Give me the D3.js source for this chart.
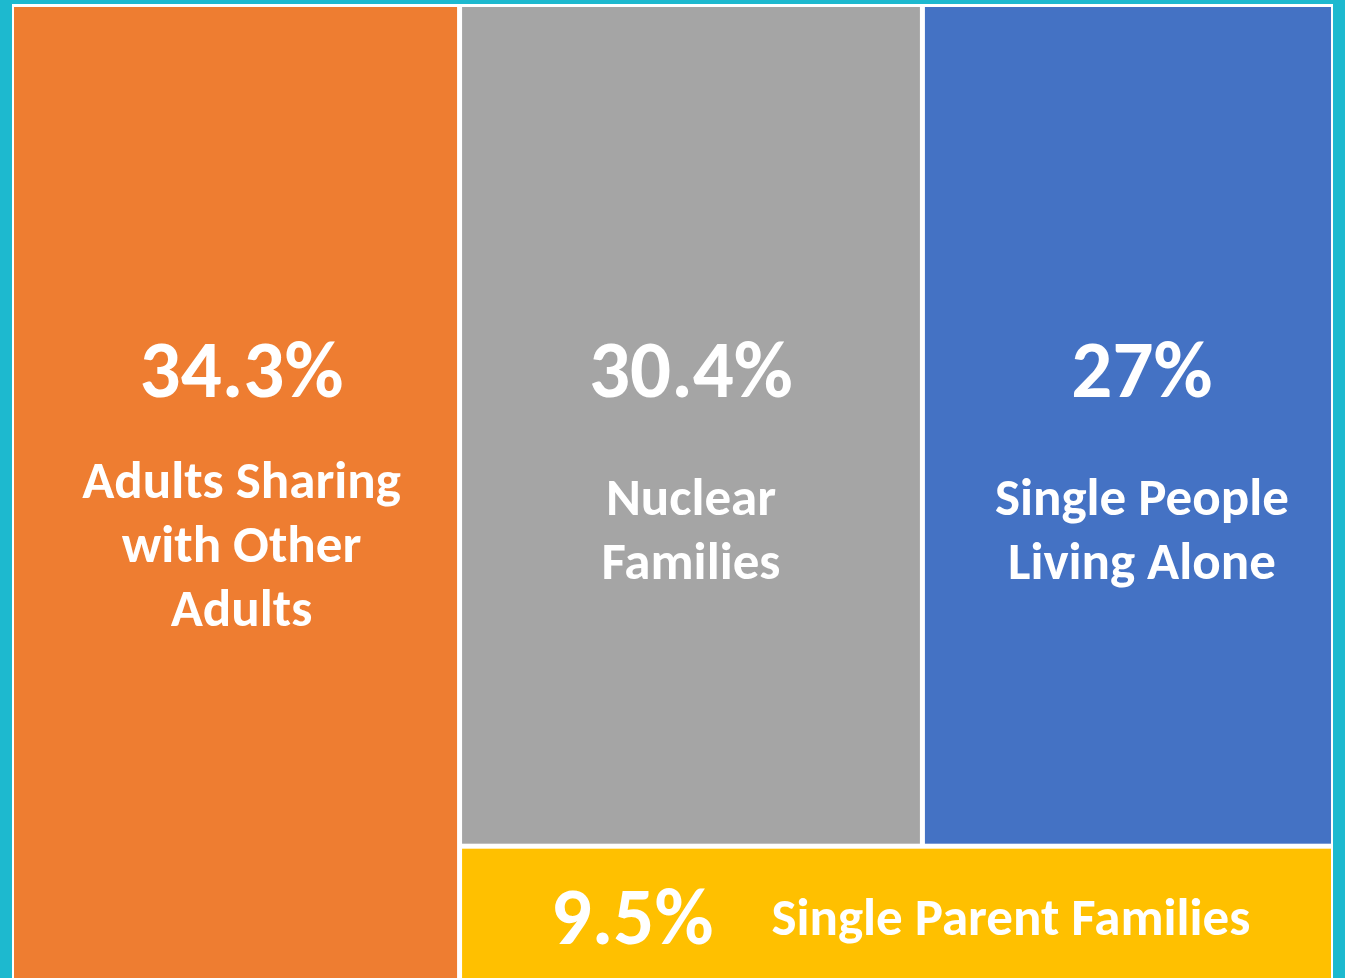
<!DOCTYPE html>
<html>
<head>
<meta charset="utf-8">
<script src="https://cdn.jsdelivr.net/npm/d3@7"></script>
<style>
  body { margin: 0; background: #1db9cf; }
  svg { display: block; }
  text { font-family: Calibri, Carlito, Lato, sans-serif; font-weight: 700; fill: #fff; }
</style>
</head>
<body>
<div id="chart"></div>
<script>
// household types, share of households (%)
const categories = ["Adults Sharing with Other Adults", "Nuclear Families", "Single People Living Alone", "Single Parent Families"];
const shares = [34.3, 30.4, 27, 9.5];
const valueLabels = ["34.3%", "30.4%", "27%", "9.5%"];
const labelLines = [
    ["Adults Sharing", "with Other", "Adults"],
    ["Nuclear", "Families"],
    ["Single People", "Living Alone"],
    ["Single Parent Families"]
];
const palette = ["#ee7d31", "#a5a5a5", "#4472c4", "#ffc000"];

var width = 1345;
var height = 978;

var svg = d3.select("#chart")
    .append("svg")
    .attr("width", width)
    .attr("height", height);

svg.append("rect")
    .attr("width", width)
    .attr("height", height)
    .attr("fill", "#1db9cf");

// white frame behind the tiles
svg.append("rect")
    .attr("x", 12)
    .attr("y", 4)
    .attr("width", 1321)
    .attr("height", 990)
    .attr("fill", "#fff");

// nesting gives the slice/dice layout: first tile | (top pair / bottom strip)
var leaves = categories.map(function(c, i) {
    return {name: c, value: shares[i], idx: i};
});
var tree = {
    name: "all",
    children: [
        leaves[0],
        {name: "rest", children: [
            {name: "top", children: [leaves[1], leaves[2]]},
            leaves[3]
        ]}
    ]
};

var root = d3.hierarchy(tree)
    .sum(function(d) { return d.children ? 0 : d.value; });

d3.treemap()
    .tile(d3.treemapSliceDice)
    .size([1317, 976])
    .paddingInner(5)
    (root);

var topRow = root.descendants().filter(function(d) { return d.data.name == "top"; })[0];
var rowCy = (topRow.y0 + topRow.y1) / 2;

var g = svg.append("g")
    .attr("transform", "translate(14,7)");

var cells = g.selectAll(".cell")
    .data(root.leaves())
    .enter().append("g")
    .attr("class", "cell");

cells.append("rect")
    .attr("x", function(d) { return d.x0; })
    .attr("y", function(d) { return d.y0; })
    .attr("width", function(d) { return d.x1 - d.x0; })
    .attr("height", function(d) { return d.y1 - d.y0; })
    .attr("fill", function(d) { return palette[d.data.idx]; });

var valueSize = 81;
var labelSize = 53;
var lineH = 64;

// tall tiles: value on top, label lines below
cells.filter(function(d) { return d.data.idx < 3; })
    .each(function(d) {
        var cell = d3.select(this);
        var cx = (d.x0 + d.x1) / 2 + (d.data.idx == 2 ? 14 : d.data.idx == 0 ? 6 : 0);
        cell.append("text")
            .attr("x", cx)
            .attr("y", rowCy - 28)
            .attr("text-anchor", "middle")
            .attr("font-size", valueSize)
            .text(valueLabels[d.data.idx]);
        var lines = labelLines[d.data.idx];
        var first = rowCy + 124 - 17 * lines.length;
        lines.forEach(function(line, k) {
            cell.append("text")
                .attr("x", cx)
                .attr("y", first + k * lineH)
                .attr("text-anchor", "middle")
                .attr("font-size", labelSize)
                .text(line);
        });
    });

// wide strip: value and label side by side
cells.filter(function(d) { return d.data.idx == 3; })
    .each(function(d) {
        var cell = d3.select(this);
        var cy = (d.y0 + d.y1) / 2 + 3;
        var val = cell.append("text")
            .attr("font-size", valueSize)
            .attr("y", cy + 25)
            .text(valueLabels[3]);
        var lab = cell.append("text")
            .attr("font-size", labelSize)
            .attr("y", cy + 16)
            .text(labelLines[3][0]);
        var gap = 58;
        var w1 = val.node().getComputedTextLength();
        var w2 = lab.node().getComputedTextLength();
        var start = (d.x0 + d.x1) / 2 + 4 - (w1 + gap + w2) / 2;
        val.attr("x", start);
        lab.attr("x", start + w1 + gap);
    });
</script>
</body>
</html>
